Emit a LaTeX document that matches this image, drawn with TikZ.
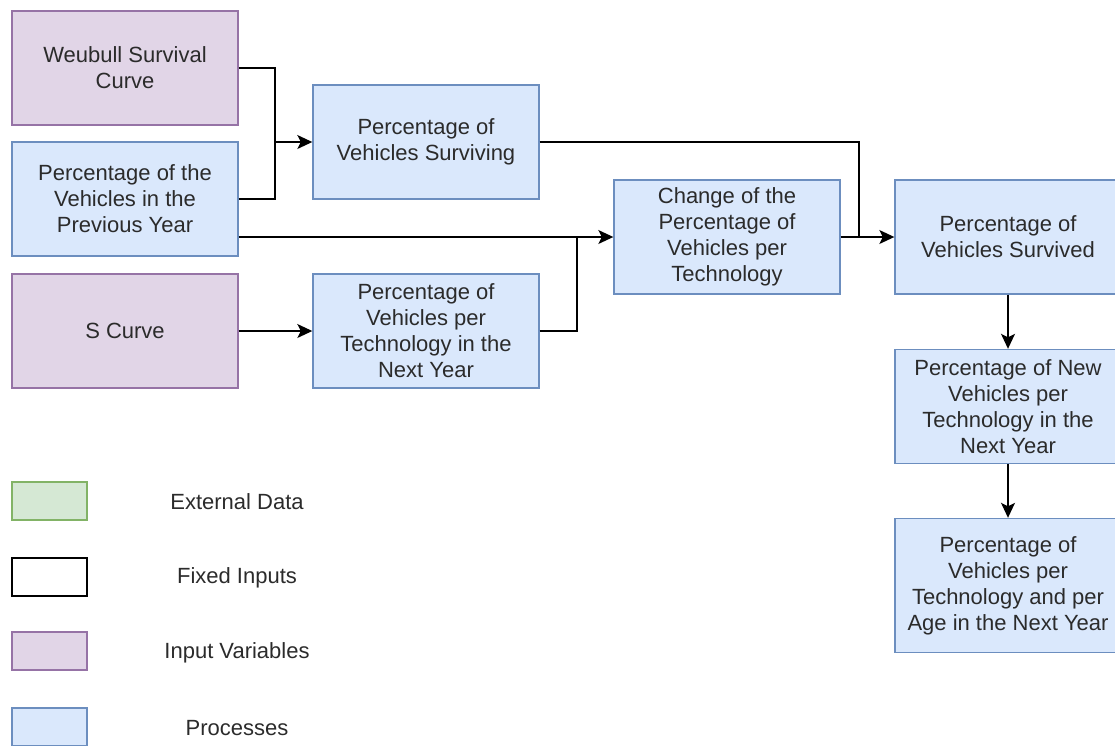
\documentclass[tikz,border=0pt]{standalone}
\usepackage{fontspec}
\setmainfont{Liberation Sans}
\usetikzlibrary{arrows.meta,calc}
\definecolor{procfill}{HTML}{DAE8FC}
\definecolor{procline}{HTML}{6C8EBF}
\definecolor{varfill}{HTML}{E1D5E7}
\definecolor{varline}{HTML}{9673A6}
\definecolor{extfill}{HTML}{D5E8D4}
\definecolor{extline}{HTML}{82B366}
\definecolor{txt}{HTML}{2B2B2B}
\begin{document}
\begin{tikzpicture}[x=1pt,y=-1pt,
  box/.style={draw, line width=1.4pt, minimum width=226pt, minimum height=114pt,
    align=center, inner sep=2pt, text=txt, font=\fontsize{22}{26}\selectfont},
  processbox/.style={box, fill=procfill, draw=procline},
  inputbox/.style={box, fill=varfill, draw=varline},
  legendbox/.style={draw, line width=1.4pt, minimum width=75pt, minimum height=38pt, inner sep=0pt},
  legendtext/.style={text=txt, font=\fontsize{22}{26}\selectfont},
  link/.style={line width=1.4pt, draw=black},
  arr/.style={link, -{Stealth[length=15pt,width=14pt,inset=3.5pt]}}]
\useasboundingbox (0,0) rectangle (1115,745);

% input variables and processes
\node[inputbox] (weib) at (125,68) {Weubull Survival\\Curve};
\node[processbox] (prev) at (125,199) {Percentage of the\\Vehicles in the\\Previous Year};
\node[inputbox] (scur) at (125,331) {S Curve};
\node[processbox] (surv) at (426,142) {Percentage of\\Vehicles Surviving};
\node[processbox] (nxt) at (426,331) {Percentage of\\Vehicles per\\Technology in the\\Next Year};
\node[processbox] (chg) at (727,237) {Change of the\\Percentage of\\Vehicles per\\Technology};
\node[processbox] (svd) at (1008,237) {Percentage of\\Vehicles Survived};
\node[processbox] (new) at (1008,406.5) {Percentage of New\\Vehicles per\\Technology in the\\Next Year};
\node[processbox, minimum height=134pt] (age) at (1008,585.5) {Percentage of\\Vehicles per\\Technology and per\\Age in the Next Year};

% junction columns
\coordinate (j1) at (275,0);
\coordinate (j2) at (577,0);
\coordinate (j3) at (859,0);

% connectors
\draw[arr] (weib.east) -| (j1 |- surv.west) -- (surv.west);
\draw[link] (prev.east) -| (j1 |- surv.west);
\draw[arr] (prev.east |- chg.west) -- (chg.west);
\draw[link] (nxt.east) -| (j2 |- chg.west);
\draw[arr] (scur.east) -- (nxt.west);
\draw[link] (surv.east) -| (j3 |- chg.east);
\draw[arr] (chg.east) -- (svd.west);
\draw[arr] (svd.south) -- (new.north);
\draw[arr] (new.south) -- (age.north);

% legend
\node[legendbox, fill=extfill, draw=extline] (lg1) at (49.5,501) {};
\node[legendbox, fill=white, draw=black] (lg2) at (49.5,577) {};
\node[legendbox, fill=varfill, draw=varline] (lg3) at (49.5,651) {};
\node[legendbox, fill=procfill, draw=procline] (lg4) at (49.5,727) {};
\node[legendtext] (lt1) at (237,502) {External Data};
\node[legendtext] (lt2) at (237,578) {Fixed Inputs};
\node[legendtext] (lt3) at (237,653) {Input Variables};
\node[legendtext] (lt4) at (237,728) {Processes};
\end{tikzpicture}
\end{document}
